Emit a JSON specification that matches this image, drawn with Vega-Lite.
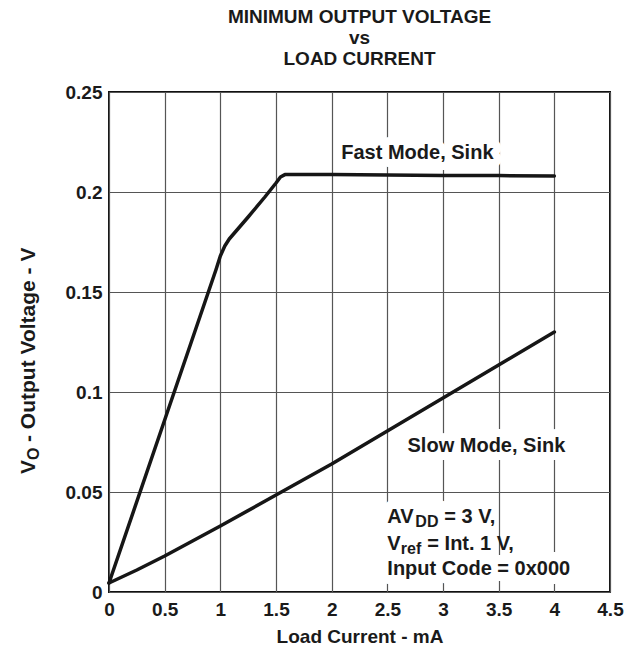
{
  "$schema": "https://vega.github.io/schema/vega-lite/v6.json",
  "width": 501,
  "height": 500,
  "autosize": {"type": "none"},
  "padding": {"left": 109, "top": 92, "right": 27, "bottom": 62},
  "background": "white",
  "config": {
    "font": "Liberation Sans",
    "view": {"stroke": "#111111", "strokeWidth": 2},
    "axis": {
      "labelFont": "Liberation Sans", "labelFontWeight": "bold", "labelFontSize": 19, "labelColor": "#1a1a1a",
      "titleFont": "Liberation Sans", "titleFontWeight": "bold", "titleFontSize": 19, "titleColor": "#1a1a1a",
      "grid": true, "gridColor": "#555555", "gridWidth": 1.2, "gridOpacity": 1,
      "ticks": false, "domain": false
    },
    "text": {"font": "Liberation Sans", "fontWeight": "bold", "color": "#1a1a1a"}
  },
  "title": {
    "text": ["MINIMUM OUTPUT VOLTAGE", "vs", "LOAD CURRENT"],
    "font": "Liberation Sans", "fontSize": 19, "fontWeight": "bold", "lineHeight": 21,
    "color": "#1a1a1a", "anchor": "middle", "frame": "group", "offset": 14
  },
  "datasets": {
    "curves": [
      {"series": "Fast", "current": 0, "voltage": 0.0045},
      {"series": "Fast", "current": 0.5, "voltage": 0.086},
      {"series": "Fast", "current": 0.96, "voltage": 0.161},
      {"series": "Fast", "current": 1.0, "voltage": 0.168},
      {"series": "Fast", "current": 1.04, "voltage": 0.173},
      {"series": "Fast", "current": 1.08, "voltage": 0.1765},
      {"series": "Fast", "current": 1.25, "voltage": 0.1875},
      {"series": "Fast", "current": 1.4, "voltage": 0.1975},
      {"series": "Fast", "current": 1.5, "voltage": 0.2045},
      {"series": "Fast", "current": 1.54, "voltage": 0.2075},
      {"series": "Fast", "current": 1.58, "voltage": 0.2087},
      {"series": "Fast", "current": 2.0, "voltage": 0.2087},
      {"series": "Fast", "current": 2.5, "voltage": 0.2085},
      {"series": "Fast", "current": 3.0, "voltage": 0.2083},
      {"series": "Fast", "current": 3.5, "voltage": 0.2082},
      {"series": "Fast", "current": 4.0, "voltage": 0.208},
      {"series": "Slow", "current": 0, "voltage": 0.0045},
      {"series": "Slow", "current": 0.25, "voltage": 0.011},
      {"series": "Slow", "current": 0.5, "voltage": 0.018},
      {"series": "Slow", "current": 0.75, "voltage": 0.0255},
      {"series": "Slow", "current": 1.0, "voltage": 0.033},
      {"series": "Slow", "current": 1.5, "voltage": 0.0485},
      {"series": "Slow", "current": 2.0, "voltage": 0.064},
      {"series": "Slow", "current": 2.5, "voltage": 0.0805},
      {"series": "Slow", "current": 3.0, "voltage": 0.097},
      {"series": "Slow", "current": 3.5, "voltage": 0.1135},
      {"series": "Slow", "current": 4.0, "voltage": 0.13}
    ],
    "labels": [
      {"current": 2.77, "voltage": 0.2195, "label": "Fast Mode, Sink"},
      {"current": 3.39, "voltage": 0.073, "label": "Slow Mode, Sink"}
    ],
    "note": [
      {"line": 1, "current": 2.5, "voltage": 0.0345, "pre": "AV", "sub": "DD", "post": "= 3 V,"},
      {"line": 2, "current": 2.5, "voltage": 0.021, "pre": "V", "sub": "ref", "post": "= Int. 1 V,"},
      {"line": 3, "current": 2.5, "voltage": 0.0085, "pre": "Input Code = 0x000", "sub": "", "post": ""}
    ],
    "ytitle": [
      {"current": 0, "voltage": 0.125, "main": "V", "sub": "O", "rest": "- Output Voltage - V"}
    ]
  },
  "encoding": {
    "x": {
      "field": "current", "type": "quantitative",
      "scale": {"domain": [0, 4.5], "nice": false, "zero": false},
      "axis": {"values": [0, 0.5, 1, 1.5, 2, 2.5, 3, 3.5, 4, 4.5], "format": "~g", "labelPadding": 8, "title": "Load Current - mA", "titlePadding": 8, "labelFlush": false}
    },
    "y": {
      "field": "voltage", "type": "quantitative",
      "scale": {"domain": [0, 0.25], "nice": false, "zero": false},
      "axis": {"values": [0, 0.05, 0.1, 0.15, 0.2, 0.25], "format": "~g", "labelPadding": 7, "title": null, "labelFlush": false}
    }
  },
  "layer": [
    {
      "data": {"name": "labels"},
      "mark": {"type": "text", "fontSize": 20, "align": "center", "baseline": "middle", "color": "white", "stroke": "white", "strokeWidth": 16, "strokeJoin": "round"},
      "encoding": {"text": {"field": "label"}}
    },
    {
      "data": {"name": "note"},
      "mark": {"type": "text", "fontSize": 20, "align": "left", "baseline": "alphabetic", "color": "white", "stroke": "white", "strokeWidth": 18, "strokeJoin": "round"},
      "encoding": {"text": {"field": "pre"}}
    },
    {
      "data": {"name": "note"},
      "transform": [{"filter": "datum.line == 1"}],
      "mark": {"type": "text", "fontSize": 20, "align": "left", "baseline": "alphabetic", "dx": 28, "color": "white", "stroke": "white", "strokeWidth": 18, "strokeJoin": "round"},
      "encoding": {"text": {"field": "post"}}
    },
    {
      "data": {"name": "note"},
      "transform": [{"filter": "datum.line == 2"}],
      "mark": {"type": "text", "fontSize": 20, "align": "left", "baseline": "alphabetic", "dx": 13, "color": "white", "stroke": "white", "strokeWidth": 18, "strokeJoin": "round"},
      "encoding": {"text": {"field": "post"}}
    },
    {
      "data": {"name": "curves"},
      "mark": {"type": "line", "color": "#161616", "strokeWidth": 3.5, "strokeJoin": "round", "strokeCap": "round"},
      "encoding": {"detail": {"field": "series"}}
    },
    {
      "data": {"name": "labels"},
      "mark": {"type": "text", "fontSize": 20, "align": "center", "baseline": "middle"},
      "encoding": {"text": {"field": "label"}}
    },
    {
      "data": {"name": "note"},
      "mark": {"type": "text", "fontSize": 20, "align": "left", "baseline": "alphabetic"},
      "encoding": {"text": {"field": "pre"}}
    },
    {
      "data": {"name": "note"},
      "transform": [{"filter": "datum.line == 1"}],
      "mark": {"type": "text", "fontSize": 16, "align": "left", "baseline": "alphabetic", "dx": 28, "dy": 4},
      "encoding": {"text": {"field": "sub"}}
    },
    {
      "data": {"name": "note"},
      "transform": [{"filter": "datum.line == 1"}],
      "mark": {"type": "text", "fontSize": 20, "align": "left", "baseline": "alphabetic", "dx": 57},
      "encoding": {"text": {"field": "post"}}
    },
    {
      "data": {"name": "note"},
      "transform": [{"filter": "datum.line == 2"}],
      "mark": {"type": "text", "fontSize": 16, "align": "left", "baseline": "alphabetic", "dx": 13.5, "dy": 4},
      "encoding": {"text": {"field": "sub"}}
    },
    {
      "data": {"name": "note"},
      "transform": [{"filter": "datum.line == 2"}],
      "mark": {"type": "text", "fontSize": 20, "align": "left", "baseline": "alphabetic", "dx": 40},
      "encoding": {"text": {"field": "post"}}
    },
    {
      "data": {"name": "ytitle"},
      "mark": {"type": "text", "fontSize": 21, "angle": -90, "align": "left", "baseline": "middle", "dx": -132, "dy": -80},
      "encoding": {"text": {"field": "main"}}
    },
    {
      "data": {"name": "ytitle"},
      "mark": {"type": "text", "fontSize": 16, "angle": -90, "align": "left", "baseline": "middle", "dx": -118, "dy": -75},
      "encoding": {"text": {"field": "sub"}}
    },
    {
      "data": {"name": "ytitle"},
      "mark": {"type": "text", "fontSize": 21, "angle": -90, "align": "left", "baseline": "middle", "dx": -100, "dy": -80},
      "encoding": {"text": {"field": "rest"}}
    }
  ]
}
